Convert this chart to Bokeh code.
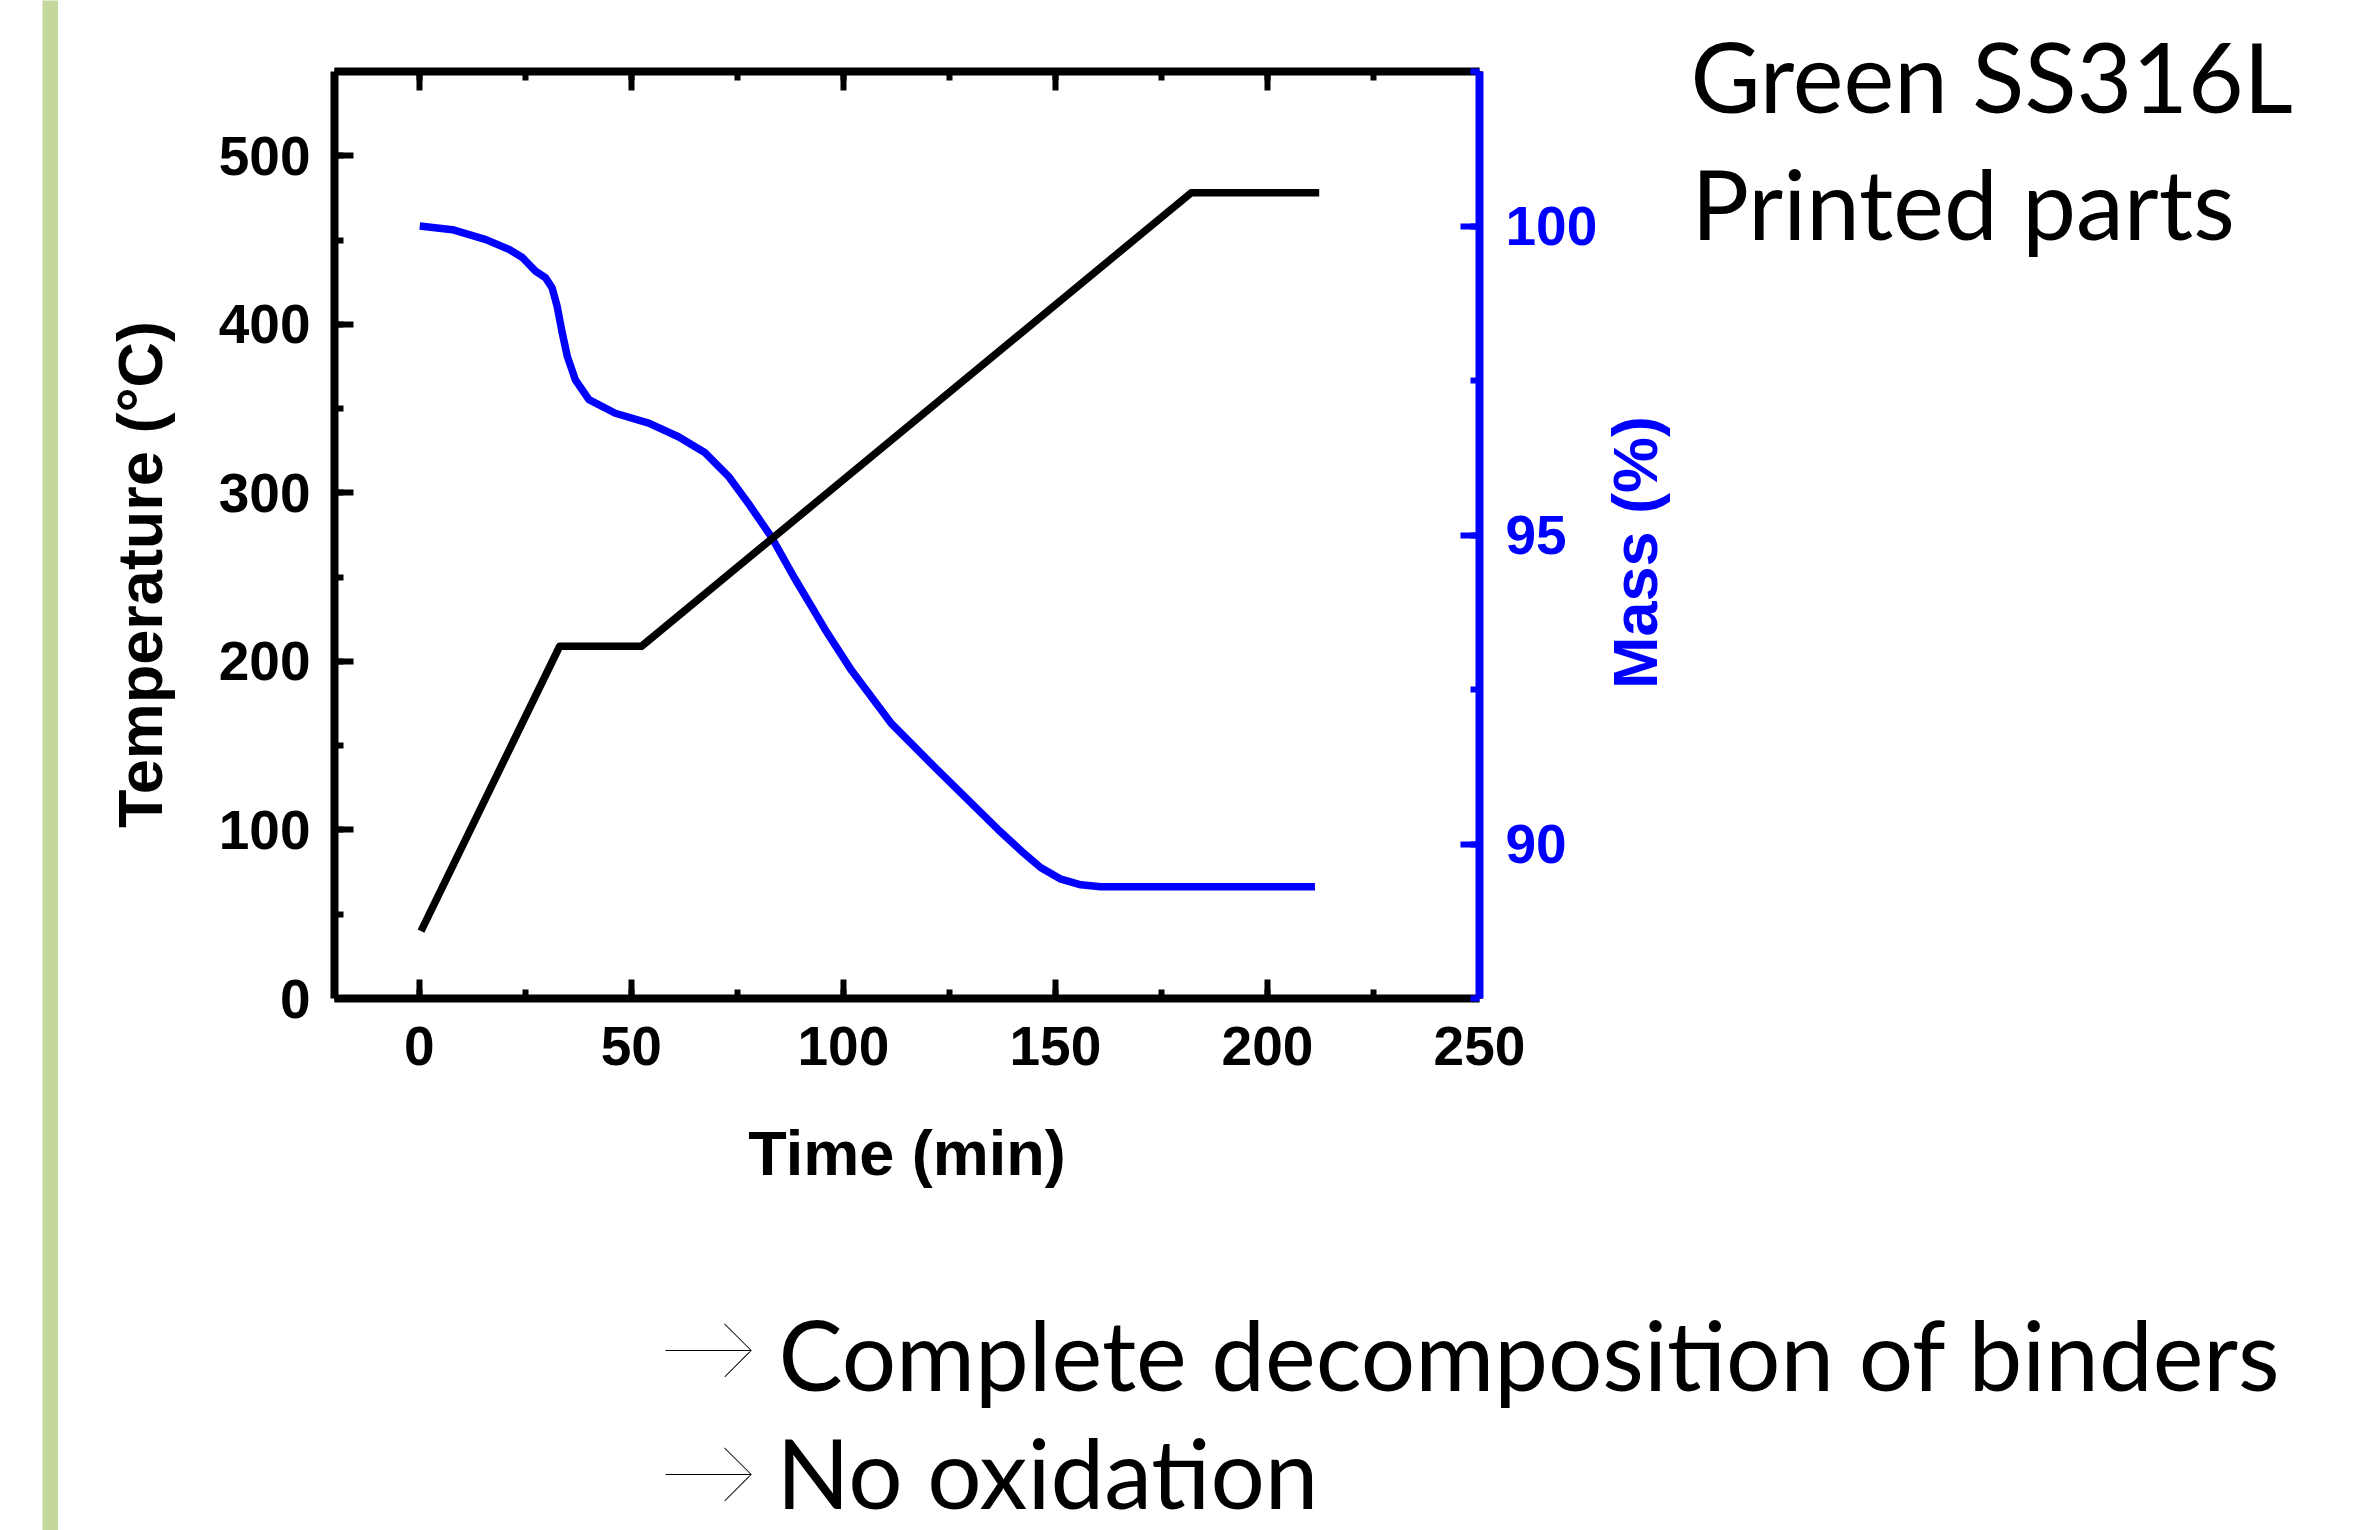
import math
from bokeh.plotting import figure
from bokeh.layouts import row, column
from bokeh.models import (Range1d, LinearAxis, SingleIntervalTicker, Spacer,
                          CustomLabelingPolicy)
from bokeh.core.properties import value
from bokeh.embed import file_html
from bokeh.resources import INLINE

# ---- data ----
time_temp = [0.4, 33.1, 52.4, 182.0, 212.2]
temperature = [40, 209, 209, 478, 478]

time_mass = [0.1, 7.8, 15.7, 21.2, 24.3, 27.4, 29.8, 31.3, 32.5, 33.7, 34.9, 36.8,
             40.0, 46.2, 54.1, 61.1, 67.4, 72.9, 77.6, 83.1, 88.5, 92.5, 95.6,
             101.9, 111.3, 122.3, 136.4, 141.9, 146.5, 151.3, 156.0, 160.7, 211.2]
mass = [100.0, 99.94, 99.78, 99.62, 99.49, 99.27, 99.16, 99.0, 98.70, 98.27, 97.89, 97.51,
        97.19, 96.97, 96.81, 96.59, 96.33, 95.95, 95.51, 94.96, 94.3, 93.84, 93.48,
        92.81, 91.95, 91.19, 90.24, 89.89, 89.62, 89.43, 89.34, 89.31, 89.31]

x_label = "Time (min)"
y_label = "Temperature (°C)"
y2_label = "Mass (%)"
title_lines = ["Green SS316L", "Printed parts"]
note_lines = ["Complete decomposition of binders", "No oxidation"]
arrows = ["→", "→"]

FONT = "Liberation Sans"
TXT = "Lato"
BLUE = "#0000FF"
GREEN = "#C4D89E"

TOTAL_W, TOTAL_H = 2344, 1530
BAR_X, BAR_W = 42, 16
LEFT0 = BAR_X + BAR_W          # 58
CHART_X0, CHART_X1 = 190, 1600
ROW_H = 1250
FR_L, FR_R, FR_T, FR_B = 334, 1480, 71, 998

figs = []

# ---------------- chart ----------------
p = figure(width=CHART_X1 - CHART_X0, height=ROW_H,
           x_range=Range1d(-20, 250), y_range=Range1d(0, 550),
           output_backend="svg", toolbar_location=None,
           min_border_left=FR_L - CHART_X0, min_border_right=CHART_X1 - FR_R,
           min_border_top=FR_T, min_border_bottom=ROW_H - FR_B,
           x_axis_location=None, y_axis_location=None)
p.outline_line_color = None
p.xgrid.visible = False
p.ygrid.visible = False
p.extra_y_ranges = {"mass": Range1d(87.5, 102.5)}
figs.append(p)


def style(ax, color="black"):
    ax.axis_line_width = 8
    ax.axis_line_color = color
    ax.major_tick_line_color = color
    ax.minor_tick_line_color = color
    ax.major_tick_line_width = 6
    ax.minor_tick_line_width = 6
    ax.major_tick_in = 19
    ax.major_tick_out = 0
    ax.minor_tick_in = 9
    ax.minor_tick_out = 0
    ax.major_label_text_font = FONT
    ax.major_label_text_font_style = "bold"
    ax.major_label_text_font_size = "55px"
    ax.major_label_text_color = color
    ax.axis_label_text_font = FONT
    ax.axis_label_text_font_style = "bold"
    ax.axis_label_text_font_size = "63px"
    ax.axis_label_text_color = color


xb = LinearAxis(ticker=SingleIntervalTicker(interval=50, num_minor_ticks=2), axis_label=x_label)
style(xb)
xb.major_label_standoff = 28
xb.axis_label_standoff = 50
p.add_layout(xb, "below")

xt = LinearAxis(ticker=SingleIntervalTicker(interval=50, num_minor_ticks=2),
                major_label_policy=CustomLabelingPolicy(code="return new Set()"))
style(xt)
xt.major_label_standoff = 0
p.add_layout(xt, "above")

yl = LinearAxis(ticker=SingleIntervalTicker(interval=100, num_minor_ticks=2))
style(yl)
yl.major_label_standoff = 24
p.add_layout(yl, "left")

yr = LinearAxis(y_range_name="mass", ticker=SingleIntervalTicker(interval=5, num_minor_ticks=2))
style(yr, color=BLUE)
yr.major_label_standoff = 26
p.add_layout(yr, "right")

p.line(time_mass, mass, y_range_name="mass", line_color=BLUE, line_width=7.5, line_join="round")
p.line(time_temp, temperature, line_color="black", line_width=7.5, line_join="round")


# ---------------- text panels (pixel coordinate ranges) ----------------
def blank(w, h, bg="white"):
    f = figure(width=w, height=h, x_range=Range1d(0, w), y_range=Range1d(h, 0),
               output_backend="svg", toolbar_location=None, min_border=0,
               x_axis_location=None, y_axis_location=None,
               background_fill_color=bg, border_fill_color=bg)
    f.outline_line_color = None
    f.grid.visible = False
    figs.append(f)
    return f


bar = blank(BAR_W, TOTAL_H, bg=GREEN)

# left axis title panel
lf = blank(CHART_X0 - LEFT0, ROW_H)
lf.text(x=[139 - LEFT0], y=[574], text=[y_label], angle=math.pi / 2,
        text_font=value(FONT), text_font_style=value("bold"), text_font_size=value("63px"),
        text_color="black", text_align="center", text_baseline="middle")

# right panel: mass axis title + headline
tf = blank(TOTAL_W - CHART_X1, ROW_H)
tf.text(x=[1634 - CHART_X1], y=[552], text=[y2_label], angle=math.pi / 2,
        text_font=value(FONT), text_font_style=value("bold"), text_font_size=value("63px"),
        text_color=BLUE, text_align="center", text_baseline="middle")
tf.text(x=[1690 - CHART_X1, 1691 - CHART_X1], y=[75, 202], text=title_lines,
        text_font=value(TXT), text_font_size=value("96px"), text_color="black",
        text_baseline="middle", text_align="left")

# bottom notes
nf = blank(TOTAL_W - LEFT0, TOTAL_H - ROW_H)
nf.text(x=[778 - LEFT0, 776 - LEFT0], y=[1353 - ROW_H, 1471 - ROW_H], text=note_lines,
        text_font=value(TXT), text_font_size=value("96px"), text_color="black",
        text_baseline="middle", text_align="left")
nf.text(x=[658 - LEFT0, 658 - LEFT0], y=[1342 - ROW_H, 1466 - ROW_H], text=arrows,
        text_font=value(TXT), text_font_size=value("100px"), text_color="black",
        text_baseline="middle", text_align="left")

for f in figs:
    try:
        f.frame_align = False
    except Exception:
        pass

layout = row(Spacer(width=BAR_X, height=TOTAL_H), bar,
             column(row(lf, p, tf, spacing=0), nf, spacing=0), spacing=0)

open("out.html", "w").write(file_html(layout, INLINE))
